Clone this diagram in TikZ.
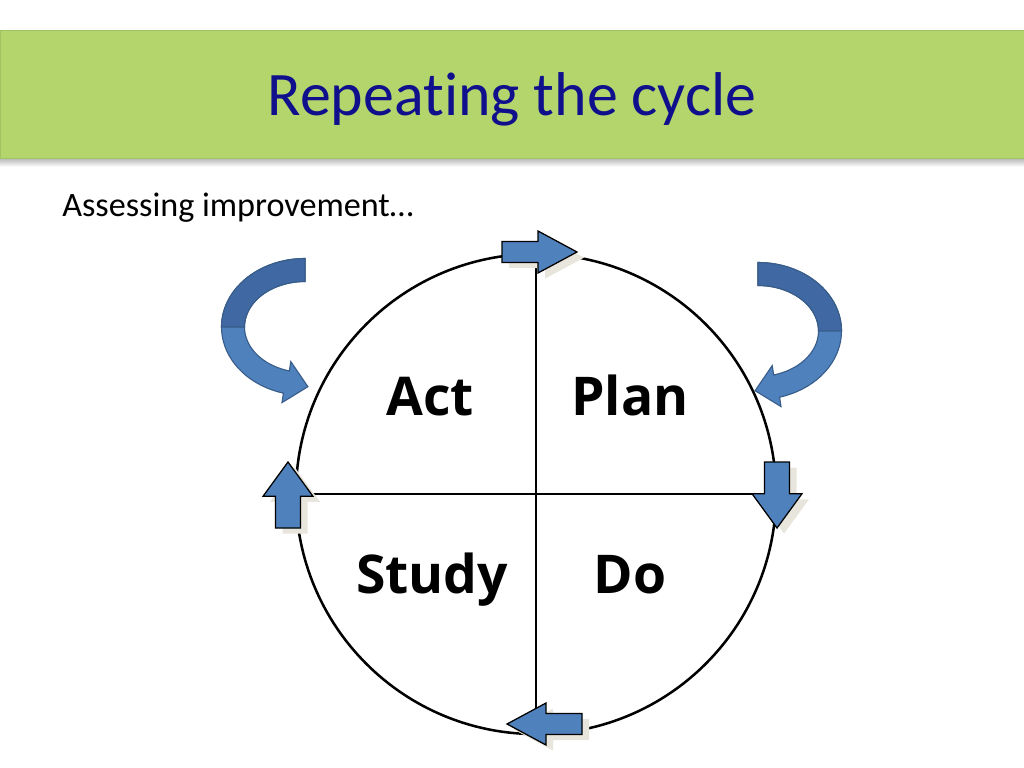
\documentclass[tikz,border=0pt]{standalone}
\usepackage{fontspec}
\setmainfont{Carlito}[Ligatures=NoCommon]
\newfontfamily\cyclefont{Open Sans}
\usetikzlibrary{shadows}

\definecolor{bandgreen}{RGB}{179,213,108}
\definecolor{bandedge}{RGB}{160,195,100}
\definecolor{titleblue}{RGB}{16,16,140}
\definecolor{arrowblue}{RGB}{79,129,189}
\definecolor{arrowdark}{RGB}{64,104,162}
\definecolor{arrowedge}{RGB}{56,93,138}
\definecolor{arrowshade}{RGB}{232,230,220}

\begin{document}
\begin{tikzpicture}[x=0.025cm, y=-0.025cm, line join=miter]
  \tikzset{
    phase/.style={font=\cyclefont\bfseries\fontsize{38}{45}\selectfont, anchor=base, inner sep=0pt},
    stepshape/.style={fill=arrowblue, draw=black, line width=0.9pt,
      general shadow={fill=arrowshade, shadow xshift=5pt, shadow yshift=-4pt}},
    ribbon/.style={fill=arrowblue, draw=arrowedge, line width=0.8pt},
    pics/steparrow/.style={code={
      \filldraw[stepshape] (0,0) -- (-39,-21) -- (-39,-10.5) -- (-75,-10.5)
        -- (-75,10.5) -- (-39,10.5) -- (-39,21) -- cycle;
    }},
    pics/loopback/.style={code={
      \filldraw[ribbon] plot[domain=270:105, samples=40, variable=\t] ({83.5*cos(\t)}, {68.5*sin(\t)})
        -- (-23,75.6) -- (2.9,59.7) -- (-14.2,34.6)
        -- plot[domain=105:270, samples=40, variable=\t] ({60.5*cos(\t)}, {45.5*sin(\t)}) -- cycle;
      \filldraw[ribbon, fill=arrowdark] plot[domain=270:180, samples=30, variable=\t] ({83.5*cos(\t)}, {68.5*sin(\t)})
        -- plot[domain=180:270, samples=30, variable=\t] ({60.5*cos(\t)}, {45.5*sin(\t)}) -- cycle;
    }}
  }
  \useasboundingbox (0,0) rectangle (1024,768);

  % title band
  \shade[top color=black!35, bottom color=white] (0,156) rectangle (1024,167);
  \filldraw[fill=bandgreen, draw=bandedge, line width=0.6pt] (0,30) rectangle (1024,158);
  \node[text=titleblue, font=\fontsize{44}{52}\selectfont, anchor=base] (title) at (512,116) {Repeating the cycle};
  \node[font=\fontsize{24.3}{29}\selectfont, anchor=base west, inner sep=0pt] (sub) at (62,216) {Assessing improvement…};

  % the cycle
  \node[circle, draw, line width=1.8pt, minimum size=12cm, inner sep=0pt] (cycle) at (536,494) {};
  \draw[line width=1.8pt] (cycle.north) -- (cycle.south);
  \draw[line width=1.8pt] (cycle.west) -- (cycle.east);

  \node[phase] (act) at (430,415) {Act};
  \node[phase] (plan) at (630,415) {Plan};
  \node[phase] (study) at (432,593) {Study};
  \node[phase] (do) at (630,593) {Do};

  % arrows round the rim
  \pic at (577,252) {steparrow};
  \pic[rotate=-90, xscale=0.88, yscale=1.19] at (777,528) {steparrow};
  \pic[rotate=180] at (507,724) {steparrow};
  \pic[rotate=90, xscale=0.88, yscale=1.19] at (288,462) {steparrow};

  % loop back arrows
  \pic at (305,327) {loopback};
  \pic[xscale=-1] at (758,331) {loopback};
\end{tikzpicture}
\end{document}
